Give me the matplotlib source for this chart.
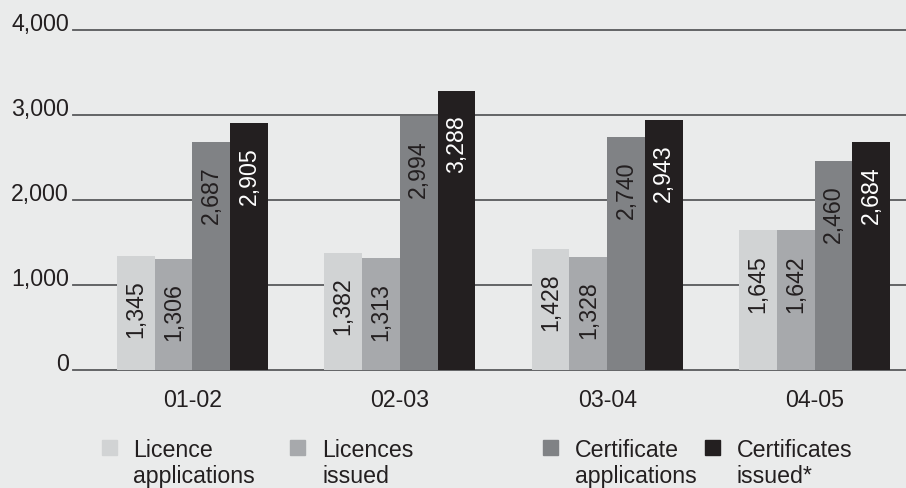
import matplotlib
matplotlib.use("Agg")
import matplotlib.pyplot as plt
from matplotlib.patches import Rectangle
import numpy as np

plt.rcParams['font.family'] = ['Liberation Sans', 'DejaVu Sans']

periods = ["01-02", "02-03", "03-04", "04-05"]
series_names = ["Licence\napplications", "Licences\nissued",
                "Certificate\napplications", "Certificates\nissued*"]
licence_applications = [1345, 1382, 1428, 1645]
licences_issued = [1306, 1313, 1328, 1642]
certificate_applications = [2687, 2994, 2740, 2460]
certificates_issued = [2905, 3288, 2943, 2684]
y_ticks = [0, 1000, 2000, 3000, 4000]

series = [licence_applications, licences_issued,
          certificate_applications, certificates_issued]
colors = ["#d1d3d4", "#a7a9ac", "#808285", "#231f20"]
text_colors = ["#231f20", "#231f20", "#231f20", "#ffffff"]
bg = "#eaebeb"
ink = "#231f20"
FS = 16.7

W, H = 906, 489
fig = plt.figure(figsize=(W / 100, H / 100), dpi=100, facecolor=bg)
ax = fig.add_axes([73 / W, (H - 371) / H, (906 - 73) / W, (371 - 31) / H])
ax.set_facecolor(bg)

x = np.arange(len(periods))
bw = 0.182
for i, vals in enumerate(series):
    xs = x + (i - 1.5) * bw
    bars = ax.bar(xs, vals, width=bw, color=colors[i], zorder=3, linewidth=0)
    for xx, v in zip(xs, vals):
        ax.annotate(f"{v:,}", xy=(xx, v), xytext=(0, -17), textcoords="offset points",
                    rotation=90, ha="center", va="top", fontsize=FS,
                    color=text_colors[i], zorder=4)

ax.set_xlim(-0.576, 3.441)
ax.set_ylim(0, 4000)
ax.set_yticks(y_ticks)
ax.set_yticklabels([f"{t:,}" for t in y_ticks], fontsize=FS, color=ink)
for lab in ax.get_yticklabels():
    lab.set_va("baseline")
ax.tick_params(axis="y", length=0, pad=3)
ax.set_xticks(x)
ax.set_xticklabels(periods, fontsize=FS, color=ink)
ax.tick_params(axis="x", length=0, pad=13)

ax.yaxis.grid(True, color="#58595b", linewidth=1.3, zorder=1)
for gl in ax.get_ygridlines():
    gl.set_clip_on(False)
ax.set_axisbelow(True)
for s in ax.spines.values():
    s.set_visible(False)

# legend
sq_x = [102, 290, 543, 705]
tx_x = [133, 322, 575, 737]
for i, name in enumerate(series_names):
    fig.patches.append(Rectangle((sq_x[i] / W, (H - 456) / H), 15 / W, 15 / H,
                                 transform=fig.transFigure, color=colors[i]))
    lines = name.split("\n")
    for j, ln in enumerate(lines):
        fig.text(tx_x[i] / W, (H - (457 + 26 * j)) / H, ln, fontsize=FS,
                 color=ink, ha="left", va="baseline")

fig.savefig("out.png", dpi=100, facecolor=bg)
